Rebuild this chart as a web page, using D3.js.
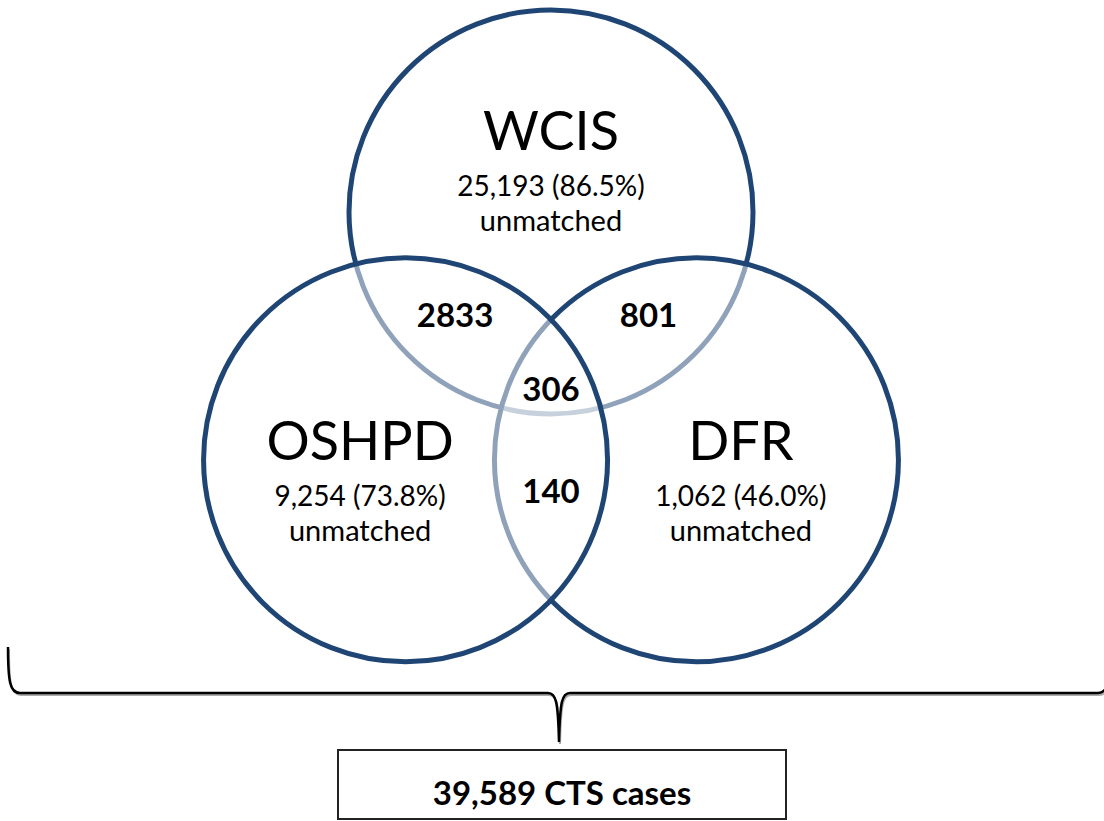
<!DOCTYPE html>
<html>
<head>
<meta charset="utf-8">
<script src="https://cdn.jsdelivr.net/npm/d3@7"></script>
<style>
  body { margin: 0; background: #fff; }
  svg text { font-family: Lato, "Noto Sans", sans-serif; fill: #000; }
</style>
</head>
<body>
<div class="venn"></div>
<script>
// data
const sets = ['WCIS', 'OSHPD', 'DFR'];
const unmatched = [25193, 9254, 1062];
const unmatchedPct = [86.5, 73.8, 46.0];
const overlapSets = [['WCIS', 'OSHPD'], ['WCIS', 'DFR'], ['OSHPD', 'DFR'], ['WCIS', 'OSHPD', 'DFR']];
const overlapCounts = [2833, 801, 140, 306];
const totalCases = 39589;
const totalLabel = 'CTS cases';

const width = 1104, height = 821;
const stroke = '#1f4575';

// layout, in units of one circle radius (0,0 = middle of the three)
const centers = {
  WCIS:  [0.0, -0.817],
  OSHPD: [-0.72, 0.41],
  DFR:   [0.72, 0.41]
};
const labelAt = {
  WCIS:  [0.0, -1.124],
  OSHPD: [-0.945, 0.41],
  DFR:   [0.94, 0.41]
};
const overlapAt = [[-0.475, -0.25], [0.483, -0.25], [0.0, 0.622], [0.0, 0.117]];
// draw order: lower circles show through the white fill of upper ones
const drawOrder = ['WCIS', 'DFR', 'OSHPD'];

const x = d3.scaleLinear().domain([-1, 1]).range([349, 753]);
const y = d3.scaleLinear().domain([-1, 1]).range([175, 579]);
const r = (x(1) - x(-1)) / 2;

const svg = d3.select('.venn')
  .append('svg')
  .attr('width', width)
  .attr('height', height);

// circles
svg.append('g').selectAll('circle')
  .data(drawOrder)
  .enter()
  .append('circle')
  .attr('cx', d => x(centers[d][0]))
  .attr('cy', d => y(centers[d][1]))
  .attr('r', r)
  .attr('fill', '#fff')
  .attr('fill-opacity', 0.5)
  .attr('stroke', stroke)
  .attr('stroke-width', 5);

// set labels
const fmt = d3.format(',');
const labels = svg.append('g').selectAll('g')
  .data(sets)
  .enter()
  .append('g')
  .attr('transform', d => `translate(${x(labelAt[d][0])},${y(labelAt[d][1])})`);
labels.append('text')
  .attr('text-anchor', 'middle')
  .style('font-size', '54px')
  .text(d => d);
labels.append('text')
  .attr('text-anchor', 'middle')
  .attr('y', 46)
  .style('font-size', '28px')
  .text((d, i) => `${fmt(unmatched[i])} (${unmatchedPct[i].toFixed(1)}%)`);
labels.append('text')
  .attr('text-anchor', 'middle')
  .attr('y', 81)
  .style('font-size', '29px')
  .text('unmatched');

// overlap counts
svg.append('g').selectAll('text')
  .data(overlapCounts)
  .enter()
  .append('text')
  .attr('x', (d, i) => x(overlapAt[i][0]))
  .attr('y', (d, i) => y(overlapAt[i][1]))
  .attr('text-anchor', 'middle')
  .style('font-size', '33px')
  .style('font-weight', 'bold')
  .text(d => d);

// brace under the circles
const braceY = 693, tipX = 559, tipY = 742, left = 8, right = 1110;
const brace = `M${left},647 C${left},682 ${left + 2},${braceY} ${left + 12},${braceY}
  H${tipX - 11} C${tipX - 3},${braceY} ${tipX - 1},${braceY + 8} ${tipX},${tipY}
  C${tipX + 1},${braceY + 8} ${tipX + 3},${braceY} ${tipX + 11},${braceY}
  H${right - 12} C${right - 2},${braceY} ${right},682 ${right},647`;
svg.append('path')
  .attr('d', brace)
  .attr('fill', 'none')
  .attr('stroke', '#aaa')
  .attr('stroke-width', 2)
  .attr('transform', 'translate(1,2)');
svg.append('path')
  .attr('d', brace)
  .attr('fill', 'none')
  .attr('stroke', '#000')
  .attr('stroke-width', 2.5);

// total box
svg.append('rect')
  .attr('x', 338)
  .attr('y', 750)
  .attr('width', 448)
  .attr('height', 69)
  .attr('fill', '#fff')
  .attr('stroke', '#222')
  .attr('stroke-width', 2);
svg.append('text')
  .attr('x', 562)
  .attr('y', 805)
  .attr('text-anchor', 'middle')
  .style('font-size', '33px')
  .style('font-weight', 'bold')
  .text(`${fmt(totalCases)} ${totalLabel}`);
</script>
</body>
</html>
